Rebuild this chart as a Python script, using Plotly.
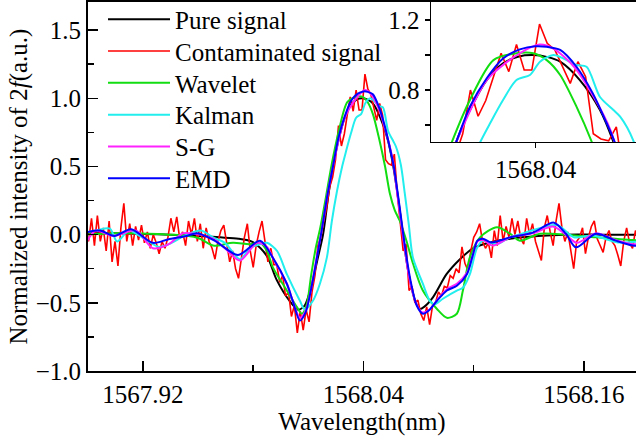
import numpy as np
import plotly.graph_objects as go

# ---------------- data ----------------
PURE_X = [1567.890, 1567.905, 1567.920, 1567.935, 1567.950, 1567.962, 1567.972, 1567.979,
          1567.984, 1567.988, 1567.9927, 1568.000, 1568.0044, 1568.008, 1568.012, 1568.015,
          1568.018, 1568.021, 1568.0234, 1568.0263, 1568.0298, 1568.0332, 1568.0365, 1568.0395,
          1568.0425, 1568.0451, 1568.0492, 1568.0534, 1568.0561, 1568.0585, 1568.061, 1568.0635,
          1568.066, 1568.0685, 1568.0707, 1568.073, 1568.0778, 1568.0852, 1568.0925, 1568.0996,
          1568.1088, 1568.1197, 1568.135, 1568.150, 1568.170, 1568.190]
PURE_Y = [0.010, 0.010, 0.005, 0.000, -0.010, -0.020, -0.030, -0.050,
          -0.100, -0.170, -0.330, -0.490, -0.550, -0.520, -0.360, -0.180,
          0.000, 0.300, 0.500, 0.686, 0.857, 0.952, 0.992, 1.000,
          0.988, 0.962, 0.857, 0.686, 0.510, 0.300, 0.050, -0.200,
          -0.380, -0.500, -0.545, -0.530, -0.460, -0.290, -0.180, -0.100,
          -0.057, -0.030, -0.010, 0.000, 0.000, 0.000]

CONT_X0 = 1567.8904
CONT_STEP = 0.0016
CONT_Y = [-0.05, 0.12, -0.08, 0.14, -0.05, 0.05, -0.12, 0.10, -0.20, -0.05,
          -0.23, 0.05, 0.23, -0.05, 0.08, -0.08, 0.06, -0.04, 0.07, -0.06,
          0.02, -0.10, 0.00, -0.06, -0.14, -0.05, -0.10, -0.02, 0.12, 0.02,
          0.13, -0.03, 0.02, -0.08, 0.10, 0.00, 0.12, -0.05, 0.08, -0.10,
          0.05,
          -0.05, -0.10, -0.18, -0.05, 0.03, 0.07, -0.08, -0.20, -0.12, -0.25,
          -0.32, -0.15, -0.02, 0.08, -0.12, -0.24, -0.08, 0.02, 0.10, -0.05,
          -0.20, -0.10, -0.22,
          -0.22, -0.35, -0.30, -0.45, -0.42, -0.60, -0.52, -0.72, -0.56, -0.70,
          -0.55, -0.64, -0.42, -0.30, -0.08, -0.02, 0.10, 0.20, 0.35, 0.42,
          0.55,
          0.80, 0.65, 0.74, 0.88, 1.01, 0.905, 1.06, 0.914, 0.914, 1.177,
          1.067, 1.029, 0.933, 0.838, 0.962, 0.876, 0.55, 0.52, 0.51, 0.59,
          0.30,
          0.10, -0.12, -0.07, -0.41, -0.38, -0.50, -0.48, -0.58, -0.63, -0.53,
          -0.66, -0.52, -0.50, -0.42, -0.45, -0.38, -0.39, -0.30, -0.32, -0.25,
          -0.28, -0.09, -0.21, -0.26, -0.12, -0.02, 0.02, 0.08, -0.05, -0.10,
          -0.06, -0.17, 0.03, -0.08, 0.14, -0.05, 0.06, -0.02, 0.12, 0.00,
          0.10, -0.03, -0.07, 0.12, 0.00, 0.08, -0.05, -0.12, -0.19, 0.05,
          0.14, 0.02, -0.08, 0.10, 0.23, 0.05, -0.05, 0.02, -0.10, -0.25,
          -0.05, -0.02, 0.05, -0.14, -0.02, 0.06, 0.10, -0.03, -0.08, -0.13,
          -0.02, 0.03, -0.05, -0.08, -0.15, -0.23, -0.05, 0.05, -0.06, -0.10,
          0.03, -0.05]
CONT_X = list(np.round(CONT_X0 + CONT_STEP * np.arange(len(CONT_Y)), 5))

WAV_X = [1567.889, 1567.905, 1567.9162, 1567.9341, 1567.9434, 1567.9510, 1567.9581, 1567.9690,
         1567.9782, 1567.9837, 1567.9875, 1567.9907, 1567.9983, 1568.0037, 1568.0065, 1568.0090,
         1568.0115, 1568.0140, 1568.0165, 1568.0195, 1568.0225, 1568.0263, 1568.0312, 1568.0360,
         1568.0395, 1568.0423, 1568.0451, 1568.0485, 1568.0517, 1568.0544, 1568.0570, 1568.0598,
         1568.0635, 1568.0669, 1568.0723, 1568.0800, 1568.0854, 1568.0908, 1568.0941, 1568.0979,
         1568.1034, 1568.1126, 1568.1197, 1568.1251, 1568.1360, 1568.1500, 1568.1665, 1568.1866,
         1568.1904]
WAV_Y = [0.000, 0.010, 0.010, 0.000, -0.007, -0.030, -0.080, -0.060,
         -0.070, -0.060, -0.120, -0.240, -0.410, -0.530, -0.580, -0.520,
         -0.300, -0.100, 0.050, 0.270, 0.500, 0.743, 0.971, 1.010,
         1.010, 0.971, 0.886, 0.705, 0.503, 0.300, 0.180, 0.100,
         -0.050, -0.210, -0.410, -0.545, -0.610, -0.580, -0.410, -0.167,
         -0.020, 0.054, 0.007, -0.044, 0.007, 0.000, -0.020, -0.040,
         -0.040]

KAL_X = [1567.889, 1567.8944, 1567.9020, 1567.9059, 1567.9124, 1567.9184, 1567.9287, 1567.9341,
         1567.9439, 1567.9516, 1567.9581, 1567.9646, 1567.9728, 1567.9782, 1567.9837, 1567.9875,
         1567.9930, 1567.9983, 1568.0054, 1568.0081, 1568.0125, 1568.0163, 1568.0201, 1568.0228,
         1568.0256, 1568.0284, 1568.0305, 1568.0332, 1568.0360, 1568.0388, 1568.0409, 1568.0437,
         1568.0458, 1568.0485, 1568.0506, 1568.0534, 1568.0562, 1568.0576, 1568.0603, 1568.0625,
         1568.0647, 1568.0669, 1568.0723, 1568.0761, 1568.0789, 1568.0832, 1568.0908, 1568.0941,
         1568.0979, 1568.1017, 1568.1050, 1568.1126, 1568.1197, 1568.1280, 1568.1453, 1568.1545,
         1568.1648, 1568.1784, 1568.1904]
KAL_Y = [0.017, 0.030, 0.044, -0.050, 0.030, -0.010, -0.090, -0.070,
         0.000, 0.030, -0.020, -0.060, -0.180, -0.100, -0.070, -0.060,
         -0.120, -0.290, -0.485, -0.550, -0.485, -0.360, -0.167, 0.100,
         0.320, 0.500, 0.610, 0.743, 0.857, 0.886, 0.962, 1.000,
         0.980, 0.943, 0.933, 0.760, 0.686, 0.648, 0.514, 0.300,
         0.070, -0.167, -0.360, -0.485, -0.510, -0.470, -0.410, -0.390,
         -0.290, -0.100, -0.044, -0.070, -0.020, 0.015, 0.070, -0.020,
         -0.007, -0.057, -0.050]

SG_X = [1567.889, 1567.8944, 1567.9037, 1567.9162, 1567.9254, 1567.9341, 1567.9418, 1567.9510,
        1567.9581, 1567.9646, 1567.9728, 1567.9820, 1567.9875, 1567.9907, 1567.9983, 1568.0016,
        1568.0054, 1568.0085, 1568.0112, 1568.0140, 1568.0175, 1568.0205, 1568.0234, 1568.0298,
        1568.0367, 1568.0408, 1568.0437, 1568.0480, 1568.0521, 1568.0556, 1568.0590, 1568.0620,
        1568.0650, 1568.0685, 1568.0720, 1568.0760, 1568.0800, 1568.0854, 1568.0908, 1568.0963,
        1568.0995, 1568.1020, 1568.1050, 1568.1104, 1568.1197, 1568.1322, 1568.1431, 1568.1501,
        1568.1561, 1568.1665, 1568.1773, 1568.1866, 1568.1904]
SG_Y = [-0.060, 0.030, -0.010, 0.030, -0.100, -0.070, 0.010, 0.000,
        -0.030, -0.100, -0.190, -0.060, -0.090, -0.170, -0.360, -0.490,
        -0.610, -0.560, -0.420, -0.210, 0.050, 0.300, 0.500, 0.857,
        1.010, 1.060, 1.037, 0.933, 0.760, 0.570, 0.240, -0.060,
        -0.320, -0.500, -0.570, -0.550, -0.480, -0.400, -0.360, -0.280,
        -0.150, -0.050, -0.040, -0.080, -0.020, 0.010, 0.060, 0.000,
        -0.060, 0.010, -0.040, -0.070, -0.070]

EMD_X = [1567.889, 1567.8966, 1567.9045, 1567.9135, 1567.9254, 1567.9336, 1567.9437, 1567.9495,
         1567.9592, 1567.9717, 1567.9837, 1567.9907, 1567.9983, 1568.0016, 1568.0054, 1568.0085,
         1568.0112, 1568.0140, 1568.0175, 1568.0205, 1568.0234, 1568.0263, 1568.0298, 1568.0332,
         1568.0367, 1568.0400, 1568.0423, 1568.0451, 1568.0485, 1568.0519, 1568.0548, 1568.0565,
         1568.0595, 1568.0625, 1568.0655, 1568.0690, 1568.0723, 1568.0760, 1568.0800, 1568.0854,
         1568.0908, 1568.0963, 1568.0995, 1568.1020, 1568.1050, 1568.1095, 1568.1197, 1568.1322,
         1568.1436, 1568.1501, 1568.1556, 1568.1665, 1568.1773, 1568.1866, 1568.1904]
EMD_Y = [0.017, 0.030, -0.010, 0.040, -0.060, -0.035, -0.010, 0.010,
         -0.045, -0.150, -0.045, -0.170, -0.360, -0.490, -0.630, -0.570,
         -0.420, -0.220, 0.050, 0.300, 0.500, 0.705, 0.867, 0.980,
         1.032, 1.050, 1.047, 1.029, 0.933, 0.781, 0.610, 0.500,
         0.220, -0.080, -0.330, -0.520, -0.580, -0.550, -0.485, -0.410,
         -0.375, -0.290, -0.150, -0.044, -0.030, -0.057, -0.020, 0.015,
         0.088, 0.007, -0.093, 0.007, -0.044, -0.080, -0.080]

NAMES = ["Pure signal", "Contaminated signal", "Wavelet", "Kalman", "S-G", "EMD"]
COLORS = ["#000000", "#ff0000", "#11dd11", "#22eeee", "#ff22ff", "#0000ff"]
Y_TITLE = "Normalized intensity of 2<i>f</i>(a.u.)"
X_TITLE = "Wavelength(nm)"

MAIN_XRANGE = [1567.8901, 1568.1883]
MAIN_YRANGE = [-1.0, 1.706]
INSET_XRANGE = [1568.0182, 1568.0609]
INSET_YRANGE = [0.503, 1.303]

FONT = "Liberation Serif"
TXT = dict(family=FONT, size=25, color="black")

series = [
    (PURE_X, PURE_Y, "spline", 2.0),
    (CONT_X, CONT_Y, "linear", 1.6),
    (WAV_X, WAV_Y, "spline", 2.0),
    (KAL_X, KAL_Y, "spline", 2.0),
    (SG_X, SG_Y, "spline", 2.0),
    (EMD_X, EMD_Y, "spline", 2.0),
]

fig = go.Figure()
legend_names = ["legend", "legend2", "legend3", "legend4", "legend5", "legend6"]
legend_tops = [1.0149, 0.9287, 0.8425, 0.7564, 0.6702, 0.5840]
for k, ((xs, ys, shape, w), name, col) in enumerate(zip(series, NAMES, COLORS)):
    fig.add_trace(go.Scatter(x=xs, y=ys, mode="lines", name=name,
                             line=dict(color=col, width=w, shape=shape, smoothing=0.8),
                             xaxis="x", yaxis="y", legend=legend_names[k],
                             hoverinfo="skip"))
for (xs, ys, shape, w), name, col in zip(series, NAMES, COLORS):
    fig.add_trace(go.Scatter(x=xs, y=ys, mode="lines", name=name, showlegend=False,
                             line=dict(color=col, width=w, shape=shape, smoothing=0.8),
                             xaxis="x2", yaxis="y2", hoverinfo="skip"))

legend_layout = {}
for ln, ytop in zip(legend_names, legend_tops):
    legend_layout[ln] = dict(
        xref="paper", yref="paper",
        x=0.0274, y=ytop, xanchor="left", yanchor="top",
        bgcolor="rgba(0,0,0,0)", borderwidth=0, font=TXT, itemwidth=62,
    )

fig.update_layout(
    width=636, height=436,
    margin=dict(l=88, r=0, t=2, b=65, autoexpand=False),
    paper_bgcolor="white", plot_bgcolor="white",
    font=TXT, hovermode=False,
    showlegend=True,
    **legend_layout,
    xaxis=dict(domain=[0, 1], range=MAIN_XRANGE, tick0=1567.92, dtick=0.12,
               tickformat=".2f", ticks="inside", ticklen=10, tickwidth=1.5,
               tickcolor="black", tickfont=TXT, showline=True, linewidth=2,
               linecolor="black", mirror=True, showgrid=False, zeroline=False,
               minor=dict(ticks="inside", ticklen=6, tickwidth=1.5, dtick=0.06,
                          tick0=1567.92, tickcolor="black", showgrid=False),
               title=dict(text=X_TITLE, standoff=2, font=TXT)),
    yaxis=dict(domain=[0, 1], range=MAIN_YRANGE, tick0=-1.0, dtick=0.5,
               tickformat=".1f", ticks="inside", ticklen=10, tickwidth=1.5,
               tickcolor="black", tickfont=TXT, showline=True, linewidth=2,
               linecolor="black", mirror=False, showgrid=False, zeroline=False,
               minor=dict(ticks="inside", ticklen=6, tickwidth=1.5, dtick=0.25,
                          tick0=-1.0, tickcolor="black", showgrid=False)),
    xaxis2=dict(domain=[0.626, 1], anchor="y2", range=INSET_XRANGE,
                tickvals=[1568.04], ticktext=["1568.04"], ticks="outside",
                ticklen=5, tickwidth=1.5, tickcolor="black", tickfont=TXT,
                showline=True, linewidth=1.5, linecolor="black",
                showgrid=False, zeroline=False),
    yaxis2=dict(domain=[0.6206, 1], anchor="x2", range=INSET_YRANGE,
                tickvals=[0.6, 0.8, 1.0, 1.2], ticktext=["", "0.8", "", "1.2"],
                ticks="outside", ticklen=5, tickwidth=1.5, tickcolor="black",
                tickfont=TXT, showline=True, linewidth=1.5, linecolor="black",
                showgrid=False, zeroline=False),
    annotations=[dict(text=Y_TITLE, xref="paper", yref="paper", x=-0.1277, y=0.5,
                      xanchor="center", yanchor="middle", textangle=-90,
                      showarrow=False, font=TXT)],
)

fig.write_html("out.html",
               config={"displayModeBar": False, "staticPlot": True},
               post_script="document.body.style.margin='0';document.body.style.padding='0';")
